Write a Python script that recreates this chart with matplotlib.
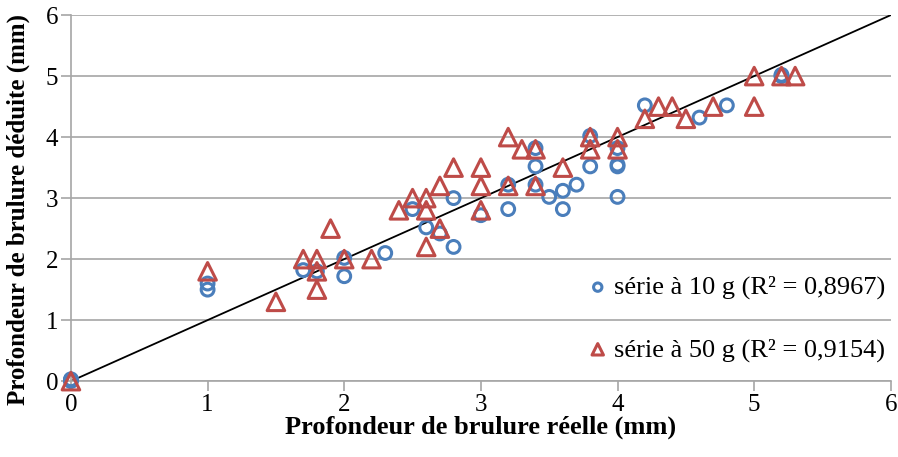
import matplotlib
matplotlib.use("Agg")
import matplotlib.pyplot as plt

# measured burn depth (mm) vs depth deduced from the model (mm)
x_10g = [0, 0, 0, 1, 1, 1.7, 1.8, 2, 2, 2.3, 2.5, 2.6, 2.7, 2.8, 2.8, 3, 3.2,
         3.2, 3.4, 3.4, 3.4, 3.5, 3.6, 3.6, 3.7, 3.8, 3.8, 4, 4, 4, 4, 4.2,
         4.6, 4.8, 5.2, 5.2]
y_10g = [0, 0.02, 0.03, 1.6, 1.5, 1.82, 1.8, 2.02, 1.72, 2.1, 2.82, 2.52,
         2.42, 3.0, 2.2, 2.72, 3.22, 2.82, 3.82, 3.52, 3.22, 3.02, 3.12,
         2.82, 3.22, 4.02, 3.52, 3.82, 3.52, 3.55, 3.02, 4.52, 4.32, 4.52,
         5.02, 5.0]

x_50g = [0, 1, 1.5, 1.7, 1.8, 1.8, 1.8, 1.9, 2, 2.2, 2.4, 2.5, 2.6, 2.6,
         2.6, 2.7, 2.7, 2.8, 3, 3, 3, 3.2, 3.2, 3.3, 3.4, 3.4, 3.6, 3.8,
         3.8, 4, 4, 4.2, 4.3, 4.4, 4.5, 4.7, 5, 5, 5.2, 5.3]
y_50g = [0, 1.8, 1.3, 2.0, 2.0, 1.8, 1.5, 2.5, 2.0, 2.0, 2.8, 3.0, 3.0, 2.8,
         2.2, 3.2, 2.5, 3.5, 3.5, 3.2, 2.8, 4.0, 3.2, 3.8, 3.8, 3.2, 3.5, 4.0,
         3.8, 4.0, 3.8, 4.3, 4.5, 4.5, 4.3, 4.5, 5.0, 4.5, 5.0, 5.0]

ticks = [0, 1, 2, 3, 4, 5, 6]
label_10g = "série à 10 g (R² = 0,8967)"
label_50g = "série à 50 g (R² = 0,9154)"

BLUE = "#4a7ebb"
RED = "#be4b48"
GRID = "#a6a6a6"

plt.rcParams["font.family"] = ["Liberation Serif", "DejaVu Serif"]

fig = plt.figure(figsize=(8.98, 4.57), dpi=100)
ax = fig.add_axes([0.079, 0.166, 0.913, 0.801])

ax.plot([0, 6], [0, 6], color="black", lw=1.3, zorder=2)
ax.scatter(x_10g, y_10g, s=85, facecolors="none", edgecolors=BLUE,
           linewidths=2.2, marker="o", zorder=3, label=label_10g,
           clip_on=False)
ax.scatter(x_50g, y_50g, s=160, facecolors="none", edgecolors=RED,
           linewidths=2.2, marker="^", zorder=4, label=label_50g,
           clip_on=False)

ax.set_xlim(0, 6)
ax.set_ylim(0, 6)
ax.set_xticks(ticks)
ax.set_yticks(ticks)
ax.grid(axis="y", color=GRID, lw=1.2, zorder=0)
ax.set_axisbelow(True)
for side in ("top", "right"):
    ax.spines[side].set_visible(False)
for side in ("left", "bottom"):
    ax.spines[side].set_color(GRID)
    ax.spines[side].set_linewidth(1.2)
ax.tick_params(colors=GRID, length=7, width=1.2, labelcolor="black",
               labelsize=18, pad=2)

ax.set_xlabel("Profondeur de brulure réelle (mm)", fontsize=19,
              fontweight="bold", labelpad=0)
ax.set_ylabel("Profondeur de brulure déduite (mm)", fontsize=18,
              fontweight="bold")
ax.yaxis.set_label_coords(-0.05, 0.47)

leg = ax.legend(loc="lower right", bbox_to_anchor=(1.012, 0.01),
                frameon=False, fontsize=19, markerscale=0.65,
                handletextpad=0.1, handlelength=1.0, labelspacing=1.45,
                borderaxespad=0.2)

fig.savefig("out.png", dpi=100)
